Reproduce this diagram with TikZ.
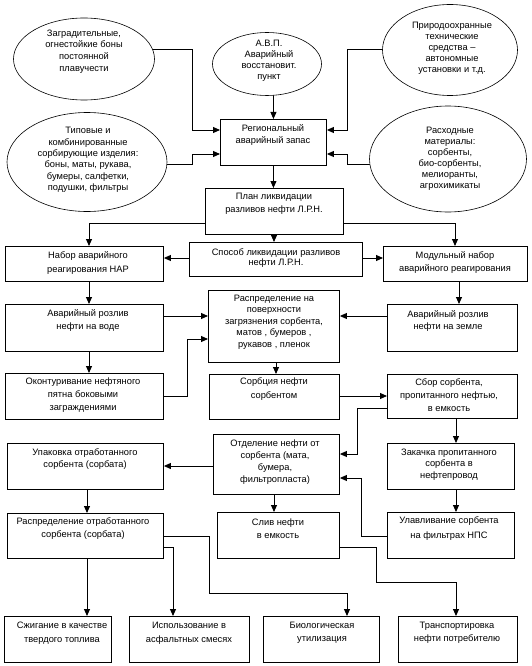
\documentclass[tikz,border=0pt]{standalone}
\usepackage{fontspec}
\setmainfont{Liberation Sans}
\usetikzlibrary{arrows.meta,shapes.geometric,backgrounds}
\begin{document}
\begin{tikzpicture}[x=1pt,y=-1pt,
  bx/.style={draw, line width=0.9pt, fill=white, rectangle, anchor=north west, inner sep=0pt},
  el/.style={draw, line width=0.6pt, fill=white, ellipse, inner sep=0pt},
  txt/.style={align=center, inner sep=0pt, font=\fontsize{9.3}{11.5}\selectfont},
  arr/.style={line width=0.9pt, -{Triangle[length=7pt,width=6pt]}}]
\useasboundingbox (0,0) rectangle (531,666);
% ellipses
\node[el, minimum width=141pt, minimum height=82pt] (e1) at (84,59) {};
\node[el, minimum width=109pt, minimum height=63pt] (avp) at (267,64) {};
\node[el, minimum width=135pt, minimum height=91pt] (e3) at (450,50) {};
\node[el, minimum width=160pt, minimum height=99pt] (e2) at (87,162) {};
\node[el, minimum width=157pt, minimum height=106pt] (e4) at (448,159) {};
% boxes
\node[bx, minimum width=106pt, minimum height=46pt] (reg) at (220,119) {};
\node[bx, minimum width=138pt, minimum height=46pt] (plan) at (205,188) {};
\node[bx, minimum width=173pt, minimum height=34pt] (spos) at (189,242) {};
\node[bx, minimum width=158pt, minimum height=35pt] (nar) at (5,246) {};
\node[bx, minimum width=144pt, minimum height=35pt] (mod) at (383,246) {};
\node[bx, minimum width=158pt, minimum height=47pt] (voda) at (5,304) {};
\node[bx, minimum width=130pt, minimum height=47pt] (zem) at (387,304) {};
\node[bx, minimum width=131pt, minimum height=72pt] (rasp) at (208,290) {};
\node[bx, minimum width=158pt, minimum height=46pt] (okon) at (5,373) {};
\node[bx, minimum width=130pt, minimum height=45pt] (sorb) at (209,374) {};
\node[bx, minimum width=130pt, minimum height=44pt] (sbor) at (387,374) {};
\node[bx, minimum width=126pt, minimum height=60pt] (otd) at (213,434) {};
\node[bx, minimum width=156pt, minimum height=46pt] (upak) at (7,443) {};
\node[bx, minimum width=127pt, minimum height=46pt] (zak) at (387,443) {};
\node[bx, minimum width=156pt, minimum height=45pt] (rotr) at (7,513) {};
\node[bx, minimum width=122pt, minimum height=46pt] (sliv) at (217,512) {};
\node[bx, minimum width=127pt, minimum height=46pt] (ulav) at (387,512) {};
\node[bx, minimum width=107pt, minimum height=46pt] (szh) at (4,616) {};
\node[bx, minimum width=120pt, minimum height=46pt] (isp) at (129,616) {};
\node[bx, minimum width=116pt, minimum height=46pt] (bio) at (263,616) {};
\node[bx, minimum width=119pt, minimum height=46pt] (tran) at (398,616) {};
% texts
\node[txt, font=\fontsize{9.3}{11.7}\selectfont] (e1t) at (84,51.5) {Заградительные,\\огнестойкие боны\\постоянной\\плавучести};
\node[txt, font=\fontsize{9.3}{11}\selectfont] (avpt) at (269,60.5) {А.В.П.\\Аварийный\\восстановит.\\пункт};
\node[txt, font=\fontsize{9.3}{11}\selectfont] (e3t) at (452,48) {Природоохранные\\технические\\средства --\\автономные\\установки и т.д.};
\node[txt, font=\fontsize{9.3}{11.3}\selectfont] (e2t) at (88,160) {Типовые и\\комбинированные\\сорбирующие изделия:\\боны, маты, рукава,\\бумеры, салфетки,\\подушки, фильтры};
\node[txt, font=\fontsize{9.3}{11}\selectfont] (e4t) at (450,158.5) {Расходные\\материалы:\\сорбенты,\\био-сорбенты,\\мелиоранты,\\агрохимикаты};
\node[txt] (regt) at (273,135) {Региональный\\аварийный запас};
\node[txt, font=\fontsize{9.3}{13}\selectfont] (plant) at (274,204) {План ликвидации\\разливов нефти Л.Р.Н.};
\node[txt, font=\fontsize{9.3}{10.5}\selectfont] (spost) at (276,258) {Способ ликвидации разливов\\нефти Л.Р.Н.};
\node[txt, font=\fontsize{9.3}{13.5}\selectfont] (nart) at (88,263) {Набор аварийного\\реагирования НАР};
\node[txt, font=\fontsize{9.3}{13}\selectfont] (modt) at (455,262.5) {Модульный набор\\аварийного реагирования};
\node[txt, font=\fontsize{9.3}{13}\selectfont] (vodat) at (88,320.5) {Аварийный розлив\\нефти на воде};
\node[txt, font=\fontsize{9.3}{12.5}\selectfont] (zemt) at (448,321) {Аварийный розлив\\нефти на земле};
\node[txt, font=\fontsize{9.3}{11.5}\selectfont] (raspt) at (274,322) {Распределение на\\поверхности\\загрязнения сорбента,\\матов , бумеров ,\\рукавов , пленок};
\node[txt, font=\fontsize{9.3}{13}\selectfont] (okont) at (83,395) {Оконтуривание нефтяного\\пятна боковыми\\заграждениями};
\node[txt, font=\fontsize{9.3}{14}\selectfont] (sorbt) at (274,389) {Сорбция нефти\\сорбентом};
\node[txt, font=\fontsize{9.3}{13}\selectfont] (sbort) at (449,395) {Сбор сорбента,\\пропитанного нефтью,\\в емкость};
\node[txt, font=\fontsize{9.3}{12}\selectfont] (otdt) at (275,462) {Отделение нефти от\\сорбента (мата,\\бумера,\\фильтропласта)};
\node[txt, font=\fontsize{9.3}{12}\selectfont] (upakt) at (85,459) {Упаковка отработанного\\сорбента (сорбата)};
\node[txt, font=\fontsize{9.3}{11.5}\selectfont] (zakt) at (449,464.5) {Закачка пропитанного\\сорбента в\\нефтепровод};
\node[txt, font=\fontsize{9.3}{13}\selectfont] (rotrt) at (83,528.5) {Распределение отработанного\\сорбента (сорбата)};
\node[txt, font=\fontsize{9.3}{13}\selectfont] (slivt) at (278,528.5) {Слив нефти\\в емкость};
\node[txt, font=\fontsize{9.3}{15}\selectfont] (ulavt) at (449,528.5) {Улавливание сорбента\\на фильтрах НПС};
\node[txt, font=\fontsize{9.3}{14}\selectfont] (szht) at (62,633) {Сжигание в качестве\\твердого топлива};
\node[txt, font=\fontsize{9.3}{14}\selectfont] (ispt) at (189,633) {Использование в\\асфальтных смесях};
\node[txt, font=\fontsize{9.3}{13}\selectfont] (biot) at (322,632.5) {Биологическая\\утилизация};
\node[txt, font=\fontsize{9.3}{13}\selectfont] (trant) at (457,632.5) {Транспортировка\\нефти потребителю};
% connectors
\begin{pgfonlayer}{background}
\fill[white] (0,0) rectangle (531,666);
\draw[arr] (e1.center |- 0,49) -| (192,130) -- (reg.west |- 0,130);
\draw[arr] (e2.center |- 0,164) -| (192,154) -- (reg.west |- 0,154);
\draw[arr] (avp.center -| reg.north) -- (reg.north);
\draw[arr] (e3.center |- 0,49) -| (347,130) -- (reg.east |- 0,130);
\draw[arr] (e4.center |- 0,164) -| (347,154) -- (reg.east |- 0,154);
\draw[arr] (reg.south) -- (reg.south |- plan.north);
\draw[arr] (plan.south -| 274,0) -- (spos.north -| 274,0);
\draw[arr] (plan.west |- 0,223) -| (nar.north -| 89,0);
\draw[arr] (plan.east |- 0,223) -| (mod.north -| 455,0);
\draw[arr] (spos.west |- 0,258) -- (nar.east |- 0,258);
\draw[arr] (spos.east |- 0,258) -- (mod.west |- 0,258);
\draw[arr] (nar.south -| 89,0) -- (voda.north -| 89,0);
\draw[arr] (voda.south -| 89,0) -- (okon.north -| 89,0);
\draw[arr] (mod.south -| 459,0) -- (zem.north -| 459,0);
\draw[arr] (voda.east |- 0,316) -- (rasp.west |- 0,316);
\draw[arr] (okon.east |- 0,396) -| (187,339) -- (rasp.west |- 0,339);
\draw[arr] (zem.west |- 0,316) -- (rasp.east |- 0,316);
\draw[arr] (rasp.south -| 276,0) -- (sorb.north -| 276,0);
\draw[arr] (sorb.east |- 0,396) -- (sbor.west |- 0,396);
\draw[arr] (sbor.west |- 0,408) -| (357,454) -- (otd.east |- 0,454);
\draw[arr] (sbor.south -| 456,0) -- (zak.north -| 456,0);
\draw[arr] (zak.south -| 456,0) -- (ulav.north -| 456,0);
\draw[arr] (ulav.west |- 0,536) -| (361,478) -- (otd.east |- 0,478);
\draw[arr] (otd.west |- 0,466) -- (upak.east |- 0,466);
\draw[arr] (otd.south -| 274,0) -- (sliv.north -| 274,0);
\draw[arr] (upak.south -| 87,0) -- (rotr.north -| 87,0);
\draw[arr] (rotr.south -| 87,0) -- (szh.north -| 87,0);
\draw[arr] (rotr.east |- 0,547) -| (isp.north -| 173,0);
\draw[arr] (rotr.east |- 0,536) -| (209,593) -| (bio.north -| 347,0);
\draw[arr] (sliv.east |- 0,547) -| (376,582) -| (tran.north -| 456,0);
\end{pgfonlayer}
\end{tikzpicture}
\end{document}
